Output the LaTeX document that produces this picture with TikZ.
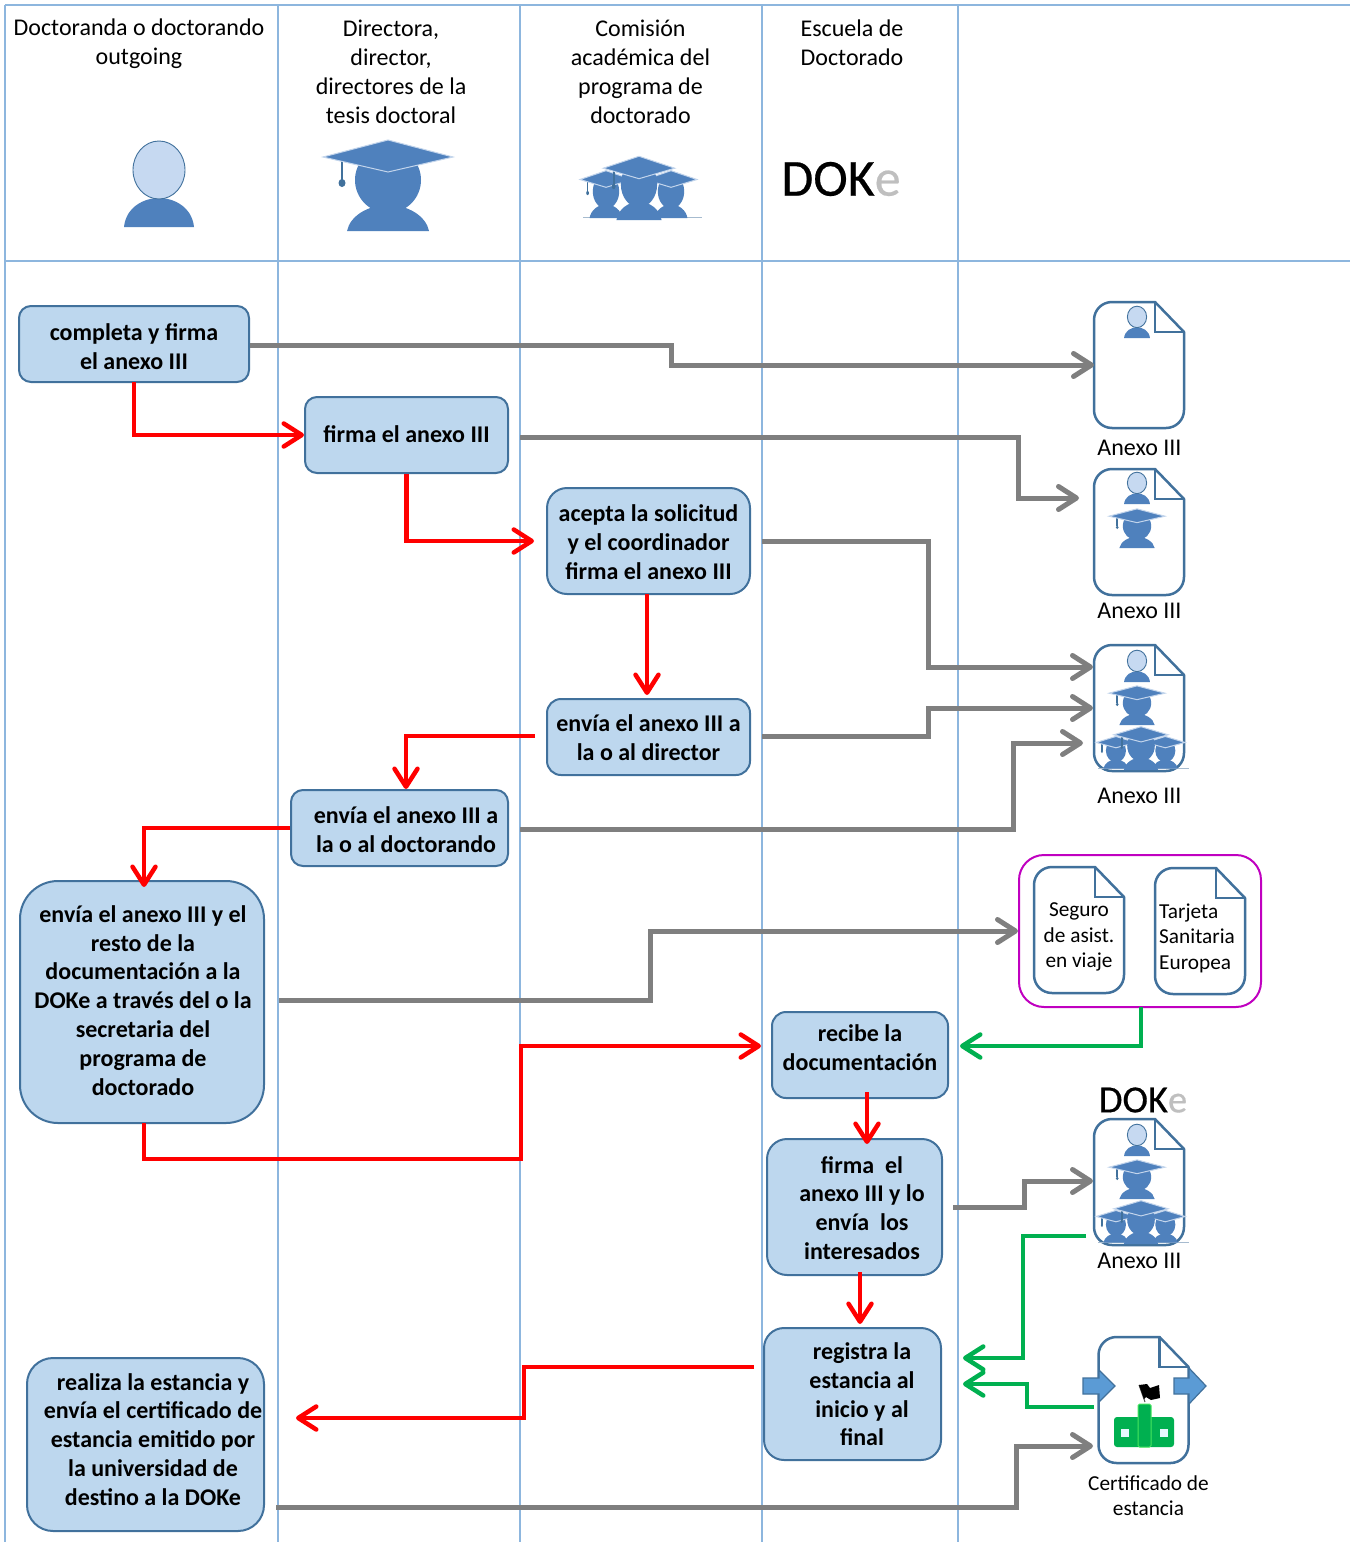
\documentclass[tikz,border=0pt]{standalone}
\usepackage{fontspec}
\setmainfont{Carlito}
\usetikzlibrary{arrows.meta}
\definecolor{lane}{HTML}{8DB6DE}
\definecolor{boxfill}{HTML}{BDD7EE}
\definecolor{boxline}{HTML}{41719C}
\definecolor{figblue}{HTML}{4F81BD}
\definecolor{figlight}{HTML}{C6D9F1}
\definecolor{capedge}{HTML}{C3D5EC}
\definecolor{arrgray}{HTML}{7F7F7F}
\definecolor{arrgreen}{HTML}{00B050}
\definecolor{groupline}{HTML}{C000C0}
\definecolor{shapeblue}{HTML}{5B9BD5}
% #1 horizontal offset (twice the shift), #2 vertical raise, #3 lines
\newcommand\offtext[3]{\hspace*{#1pt}\raisebox{#2pt}[\height][\depth]{\begin{tabular}{@{}c@{}}#3\end{tabular}}}
\tikzset{
  x=1pt,y=-1pt,
  lanerule/.style={draw=lane,line width=1.1pt},
  flowbox/.style={draw=boxline,fill=boxfill,line width=2pt,align=center,inner sep=0pt,
    font=\fontsize{24}{28.8}\selectfont\bfseries,text=black},
  headtext/.style={align=center,font=\fontsize{24}{29}\selectfont,inner sep=0pt},
  doctext/.style={font=\fontsize{24}{29}\selectfont,inner sep=0pt},
  smalltext/.style={font=\fontsize{21.3}{25.5}\selectfont,inner sep=0pt},
  graya/.style={draw=arrgray,line width=5pt,-{Straight Barb[length=18pt,width=23pt,line width=5pt,round]}},
  reda/.style={draw=red,line width=4.5pt,-{Straight Barb[length=18pt,width=23pt,line width=4.5pt,round]}},
  greena/.style={draw=arrgreen,line width=4.5pt,-{Straight Barb[length=18pt,width=23pt,line width=4.5pt,round]}},
  person/.pic={
    \fill[figblue] (-35,0) .. controls (-33,-20) and (-15,-29) .. (0,-29)
       .. controls (15,-29) and (33,-20) .. (35,0) -- cycle;
    \draw[fill=figlight,draw=boxline,line width=.9pt] (0,-57) ellipse [x radius=26pt,y radius=29pt];
  },
  gradfig/.pic={
    \fill[figblue] (-41,0) .. controls (-38,-15) and (-20,-26) .. (0,-26)
       .. controls (20,-26) and (38,-15) .. (41,0) -- cycle;
    \fill[figblue] (0,-51) ellipse [x radius=33pt,y radius=33pt];
    \draw[boxline,line width=1.6pt] (-46,-72) -- (-46,-51);
    \fill[boxline] (-46,-48) ellipse [x radius=3.5pt,y radius=4pt];
    \draw[fill=figblue,draw=capedge,line width=1pt] (-65,-74) -- (0,-91) -- (65,-74) -- (0,-59) -- cycle;
  },
  groupfig/.pic={
    \draw[lane!50!lightgray,line width=.8pt] (-56,-3) -- (63,-3);
    \pic[transform shape,xscale=.40,yscale=.52] at (-33,-2) {gradfig};
    \pic[transform shape,xscale=.40,yscale=.52] at (32,-2) {gradfig};
    \pic[transform shape,xscale=.55,yscale=.70] at (0,0) {gradfig};
  },
  docpage/.pic={
    \draw[draw=boxline,fill=white,line width=2.5pt,line join=round]
      (61,0) -- (18,0) .. controls (8,0) and (0,8) .. (0,18) -- (0,108)
      .. controls (0,118) and (8,126) .. (18,126) -- (72,126)
      .. controls (82,126) and (90,118) .. (90,108) -- (90,30) -- cycle;
    \draw[draw=boxline,line width=2.5pt,line join=miter] (61,0) -- (61,30) -- (90,30);
  }
}
\begin{document}
\begin{tikzpicture}
\fill[white] (0,0) rectangle (1350,1542);
\useasboundingbox (0,0) rectangle (1350,1542);
% lanes
\foreach \lx in {5,278,520,762,958} \draw[lanerule] (\lx,5) -- (\lx,1542);
\draw[lanerule] (5,5) -- (1350,5);
\draw[lanerule] (5,261) -- (1350,261);
% headers
\node[headtext] (h1) at (139,44) {Doctoranda o doctorando\\outgoing};
\node[headtext] (h2) at (391,72) {Directora,\\director,\\directores de la\\tesis doctoral};
\node[headtext] (h3) at (640.5,72) {Comisión\\académica del\\programa de\\doctorado};
\node[headtext] (h4) at (852,43) {Escuela de\\Doctorado};
\pic at (159,227) {person};
\pic at (388,231) {gradfig};
\pic at (639,220) {groupfig};
\node[inner sep=0pt,font=\fontsize{52}{52}\selectfont\addfontfeature{FakeBold=0.4}] (logo1) at (841,179) {DOK\textcolor{lightgray}{e}};
% documents
\pic at (1094,302) {docpage};
\pic[scale=.37] at (1137,338) {person};
\pic at (1094,469) {docpage};
\pic[scale=.37] at (1137,504) {person};
\pic[scale=.43] at (1137,548) {gradfig};
\pic at (1094,645) {docpage};
\pic[scale=.37] at (1137,682) {person};
\pic[scale=.43] at (1137,725) {gradfig};
\pic[xscale=.76,yscale=.68] at (1141,770) {groupfig};
\pic at (1094,1119) {docpage};
\pic[scale=.37] at (1137,1156) {person};
\pic[scale=.43] at (1137,1199) {gradfig};
\pic[xscale=.76,yscale=.68] at (1141,1244) {groupfig};
\pic at (1034,867) {docpage};
\pic at (1155,868) {docpage};
\node[doctext] (an1) at (1139.5,448) {Anexo III};
\node[doctext] (an2) at (1139.5,611) {Anexo III};
\node[doctext] (an3) at (1139.5,796) {Anexo III};
\node[doctext] (an4) at (1139.5,1261) {Anexo III};
\node[inner sep=0pt,font=\fontsize{38.5}{38.5}\selectfont\addfontfeature{FakeBold=0.4}] (logo2) at (1143,1100) {DOK\textcolor{lightgray}{e}};
\node[smalltext,align=center] (seg) at (1079,937) {Seguro\\de asist.\\en viaje};
\node[smalltext,align=left,anchor=west] (tar) at (1159,938) {Tarjeta\\Sanitaria\\Europea};
\node[draw=groupline,line width=2pt,rounded corners=25pt,minimum width=242pt,minimum height=152pt,inner sep=0pt] (grp) at (1140,931) {};
% certificate
\pic at (1098.5,1337) {docpage};
\fill[shapeblue,draw=boxline,line width=1.2pt] (1083,1378) -- (1099,1378) -- (1099,1370) -- (1115,1386) -- (1099,1402) -- (1099,1394) -- (1083,1394) -- cycle;
\fill[shapeblue,draw=boxline,line width=1.2pt] (1174,1378) -- (1189,1378) -- (1189,1368) -- (1206,1386) -- (1189,1404) -- (1189,1394) -- (1174,1394) -- cycle;
\fill[arrgreen,rounded corners=3pt] (1114,1417) rectangle (1174,1447);
\draw[fill=arrgreen,draw=green!60!white!70!arrgreen,line width=1pt,rounded corners=1.5pt] (1138,1404) rectangle (1151,1447);
\fill[cyan!10] (1121,1429) rectangle (1129,1437);
\fill[cyan!10] (1160,1429) rectangle (1168,1437);
\draw[black!70,line width=1pt] (1139,1385) -- (1145,1402);
\fill[black] (1139,1385) -- (1147,1384) -- (1150,1388) -- (1159,1385) -- (1160,1398) -- (1151,1400) -- (1146,1397) -- (1144,1399) -- cycle;
\node[smalltext,align=center] (cert) at (1148.5,1495.5) {Certificado de\\estancia};
% boxes
\node[flowbox,rounded corners=12pt,minimum width=230pt,minimum height=76pt] (n1) at (134,344) {\offtext{0}{-5}{completa y firma\\el anexo III}};
\node[flowbox,rounded corners=12pt,minimum width=203pt,minimum height=76pt] (n2) at (406.5,435) {\offtext{0}{-2}{firma el anexo III}};
\node[flowbox,rounded corners=20pt,minimum width=203pt,minimum height=106pt] (n3) at (648.5,541) {\offtext{0}{-4}{acepta la solicitud\\y el coordinador\\firma el anexo III}};
\node[flowbox,rounded corners=14pt,minimum width=203pt,minimum height=76pt] (n4) at (648.5,737) {\offtext{0}{-3}{envía el anexo III a\\la o al director}};
\node[flowbox,rounded corners=12pt,minimum width=217pt,minimum height=76pt] (n5) at (399.5,828) {\offtext{13}{-4}{envía el anexo III a\\la o al doctorando}};
\node[flowbox,rounded corners=38pt,minimum width=244pt,minimum height=242pt] (n6) at (142,1002) {\offtext{2}{-1}{envía el anexo III y el\\resto de la\\documentación a la\\DOKe a través del o la\\secretaria del\\programa de\\doctorado}};
\node[flowbox,rounded corners=14pt,minimum width=176pt,minimum height=86pt] (n7) at (860,1055) {\offtext{0}{5}{recibe la\\documentación}};
\node[flowbox,rounded corners=20pt,minimum width=175pt,minimum height=136pt] (n8) at (854.5,1207) {\offtext{15}{-3.5}{firma\ \ el\\anexo III y lo\\envía\ \ los\\interesados}};
\node[flowbox,rounded corners=20pt,minimum width=177pt,minimum height=132pt] (n9) at (852.5,1394) {\offtext{19}{-3}{registra la\\estancia al\\inicio y al\\final}};
\node[flowbox,rounded corners=26pt,minimum width=237pt,minimum height=173pt] (n10) at (145.5,1444.5) {\offtext{15}{2.5}{realiza la estancia y\\envía el certificado de\\estancia emitido por\\la universidad de\\destino a la DOKe}};
% free ends
\coordinate (d1w) at (1094,365);
\coordinate (d2w) at (1079,498);
\coordinate (d3a) at (1093,667);
\coordinate (d3b) at (1093,708);
\coordinate (d3c) at (1083,743);
\coordinate (d6w) at (1093,1181);
\coordinate (d7w) at (1093,1446);
\coordinate (s2) at (520,437);
\coordinate (s3) at (762,541);
\coordinate (s4) at (762,736);
\coordinate (s5) at (520,829);
\coordinate (s6) at (279,1000);
\coordinate (s8) at (953,1207);
\coordinate (s10) at (276,1507);
\coordinate (r1) at (304,435);
\coordinate (r2) at (534,541);
\coordinate (r4) at (535,736);
\coordinate (r6) at (761,1046);
\coordinate (r9) at (754,1367);
\coordinate (r10) at (296,1418);
\coordinate (e7) at (960,1046);
\coordinate (g6) at (1086,1236);
\coordinate (g7) at (1094,1407);
\coordinate (t9a) at (963,1358);
\coordinate (t9b) at (963,1384);
% gray
\draw[graya] (n1.east |- 0,345) -- (671,345) -- (671,365) -- (d1w);
\draw[graya] (s2) -- (1018,437) -- (1018,498) -- (d2w);
\draw[graya] (s3) -- (928,541) -- (928,667) -- (d3a);
\draw[graya] (s4) -- (928,736) -- (928,708) -- (d3b);
\draw[graya] (s5) -- (1013,829) -- (1013,743) -- (d3c);
\draw[graya] (s6) -- (650,1000) -- (650,931) -- (grp.west);
\draw[graya] (s8) -- (1024,1207) -- (1024,1181) -- (d6w);
\draw[graya] (s10) -- (1016,1507) -- (1016,1446) -- (d7w);
% red
\draw[reda] (134,382) -- (134,435) -- (r1);
\draw[reda] (n2.south) -- (406.5,541) -- (r2);
\draw[reda] (647,594) -- (647,695);
\draw[reda] (r4) -- (406,736) -- (406,789);
\draw[reda] (n5.west) -- (144,828) -- (144,887);
\draw[reda] (144,1123) -- (144,1159) -- (521,1159) -- (521,1046) -- (r6);
\draw[reda] (867,1092) -- (867,1144);
\draw[reda] (860,1272) -- (860,1324);
\draw[reda] (r9) -- (524,1367) -- (524,1418) -- (r10);
% green
\draw[greena] (1141,1007) -- (1141,1046) -- (e7);
\draw[greena] (g6) -- (1023,1236) -- (1023,1358) -- (t9a);
\draw[greena] (g7) -- (1027,1407) -- (1027,1384) -- (t9b);
\end{tikzpicture}
\end{document}
